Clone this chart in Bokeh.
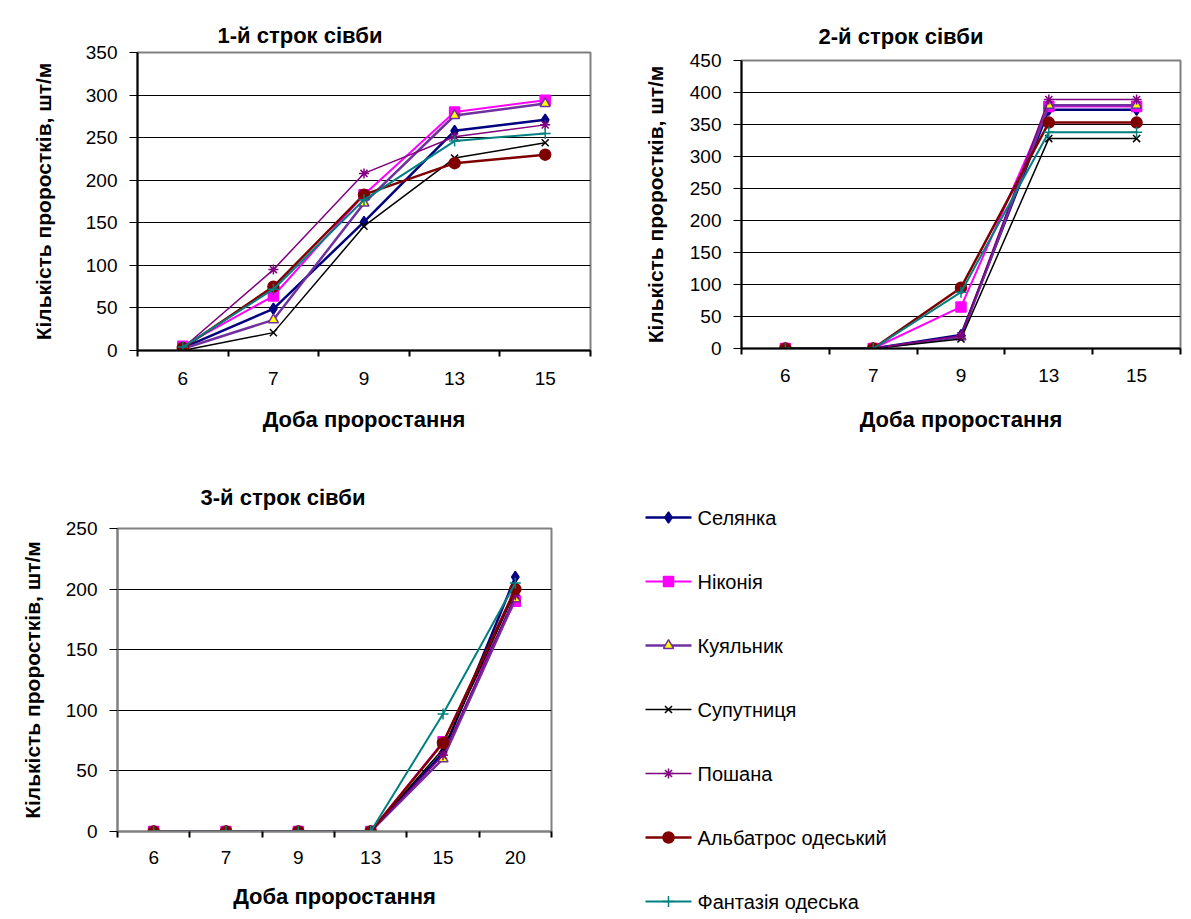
from bokeh.plotting import figure
from bokeh.models import Range1d, FixedTicker, ColumnDataSource
from bokeh.core.properties import value
from bokeh.layouts import column, row
from bokeh.embed import file_html
from bokeh.resources import INLINE

FONT = "Liberation Sans"

# ---------------- data ----------------
varieties = ["Селянка", "Ніконія", "Куяльник", "Супутниця", "Пошана",
             "Альбатрос одеський", "Фантазія одеська"]

# 1-й строк сівби
days_1 = ["6", "7", "9", "13", "15"]
selyanka_1 = [3, 49, 151, 258, 271]
nikoniya_1 = [5, 64, 183, 280, 294]
kuyalnyk_1 = [2, 36, 173, 276, 290]
suputnytsia_1 = [0, 21, 146, 226, 244]
poshana_1 = [3, 95, 208, 251, 265]
albatros_1 = [3, 75, 183, 220, 230]
fantaziya_1 = [4, 72, 177, 246, 255]

# 2-й строк сівби
days_2 = ["6", "7", "9", "13", "15"]
selyanka_2 = [0, 0, 21, 373, 373]
nikoniya_2 = [0, 0, 65, 378, 378]
kuyalnyk_2 = [0, 0, 18, 380, 380]
suputnytsia_2 = [0, 0, 15, 328, 328]
poshana_2 = [0, 0, 20, 389, 389]
albatros_2 = [0, 0, 95, 353, 353]
fantaziya_2 = [0, 0, 88, 338, 338]

# 3-й строк сівби
days_3 = ["6", "7", "9", "13", "15", "20"]
selyanka_3 = [0, 0, 0, 0, 65, 210]
nikoniya_3 = [0, 0, 0, 0, 74, 190]
kuyalnyk_3 = [0, 0, 0, 0, 60, 192]
suputnytsia_3 = [0, 0, 0, 0, 68, 198]
poshana_3 = [0, 0, 0, 0, 63, 195]
albatros_3 = [0, 0, 0, 0, 73, 200]
fantaziya_3 = [0, 0, 0, 0, 97, 205]

y_label = "Кількість проростків, шт/м"
x_label = "Доба проростання"

# ---------------- styles ----------------
styles = [
    dict(color="#000080", marker="diamond", fill="#000080", lw=2.5, size=11),
    dict(color="#FF00FF", marker="square", fill="#FF00FF", lw=2.0, size=10),
    dict(color="#7030A0", marker="triangle", fill="#FFFF00", lw=2.5, size=10),
    dict(color="#000000", marker="x", fill="#000000", lw=1.5, size=10),
    dict(color="#800080", marker="asterisk", fill="#800080", lw=1.5, size=10),
    dict(color="#800000", marker="circle", fill="#800000", lw=2.5, size=11),
    dict(color="#008080", marker="cross", fill="#008080", lw=2.0, size=11),
]


def make_chart(title, days, series, y_max, width, height, left, right, top, bottom,
               title_offset, title_standoff, ylab_standoff, x_lab_standoff,
               x_title_standoff, axis_color):
    n = len(days)
    xs = [i + 0.5 for i in range(n)]
    p = figure(width=width, height=height, x_range=Range1d(0, n), y_range=Range1d(0, y_max),
               output_backend="svg", toolbar_location=None,
               min_border_left=left, min_border_right=right,
               min_border_top=top, min_border_bottom=bottom,
               title=title)
    p.frame_align = False
    p.title.text_font = FONT
    p.title.text_font_size = "22px"
    p.title.text_font_style = "bold"
    p.title.align = "left"
    p.title.offset = title_offset
    p.title.standoff = title_standoff
    p.title.text_color = "black"

    p.outline_line_color = "#808080"
    p.outline_line_width = 2
    p.xgrid.grid_line_color = None
    p.ygrid.grid_line_color = "black"
    p.ygrid.grid_line_width = 1

    xa = p.xaxis[0]
    xa.ticker = FixedTicker(ticks=xs, minor_ticks=list(range(n + 1)))
    xa.major_label_overrides = {x: d for x, d in zip(xs, days)}
    xa.major_tick_line_color = None
    xa.major_tick_out = 6
    xa.major_tick_in = 0
    xa.minor_tick_line_color = "black"
    xa.minor_tick_out = 6
    xa.minor_tick_in = 0
    xa.minor_tick_line_width = 2
    xa.major_label_standoff = x_lab_standoff
    xa.major_label_text_font = FONT
    xa.major_label_text_font_size = "19px"
    xa.major_label_text_color = "black"
    xa.axis_line_color = axis_color
    xa.axis_line_width = 2
    xa.axis_label = x_label
    xa.axis_label_text_font = FONT
    xa.axis_label_text_font_size = "22px"
    xa.axis_label_text_font_style = "bold"
    xa.axis_label_text_color = "black"
    xa.axis_label_standoff = x_title_standoff

    ya = p.yaxis[0]
    ya.ticker = FixedTicker(ticks=list(range(0, y_max + 1, 50)), minor_ticks=[])
    ya.major_tick_out = 8
    ya.major_tick_in = 0
    ya.major_tick_line_color = "black"
    ya.major_label_standoff = 12
    ya.major_label_text_font = FONT
    ya.major_label_text_font_size = "19px"
    ya.major_label_text_color = "black"
    ya.axis_line_color = axis_color
    ya.axis_line_width = 2
    ya.axis_label = y_label
    ya.axis_label_text_font = FONT
    ya.axis_label_text_font_size = "21px"
    ya.axis_label_text_font_style = "bold"
    ya.axis_label_text_color = "black"
    ya.axis_label_standoff = ylab_standoff

    for vals, st in zip(series, styles):
        src = ColumnDataSource(dict(x=xs, y=vals))
        p.line("x", "y", source=src, line_color=st["color"], line_width=st["lw"])
        p.scatter("x", "y", source=src, marker=st["marker"], size=st["size"],
                  fill_color=st["fill"], line_color=st["color"], line_width=1.5)
    return p


p1 = make_chart("1-й строк сівби", days_1,
                [selyanka_1, nikoniya_1, kuyalnyk_1, suputnytsia_1, poshana_1, albatros_1, fantaziya_1],
                350, 610, 455, 137, 20, 52, 105,
                title_offset=80, title_standoff=10, ylab_standoff=28,
                x_lab_standoff=15, x_title_standoff=19, axis_color="black")

p2 = make_chart("2-й строк сівби", days_2,
                [selyanka_2, nikoniya_2, kuyalnyk_2, suputnytsia_2, poshana_2, albatros_2, fantaziya_2],
                450, 581, 455, 131, 11, 60, 107,
                title_offset=77, title_standoff=24, ylab_standoff=20,
                x_lab_standoff=14, x_title_standoff=22, axis_color="black")

p3 = make_chart("3-й строк сівби", days_3,
                [selyanka_3, nikoniya_3, kuyalnyk_3, suputnytsia_3, poshana_3, albatros_3, fantaziya_3],
                250, 600, 464, 117, 49, 73, 88,
                title_offset=83, title_standoff=38, ylab_standoff=19,
                x_lab_standoff=13, x_title_standoff=17, axis_color="#808080")

# ---------------- legend panel (pixel-like coordinates, y downward) ----------------
LW, LH = 591, 464
pl = figure(width=LW, height=LH, output_backend="svg", toolbar_location=None,
            x_axis_type=None, y_axis_type=None, min_border=0,
            x_range=Range1d(0, LW), y_range=Range1d(LH, 0))
pl.frame_align = False
pl.outline_line_color = None
pl.grid.grid_line_color = None
row0, pitch = 62, 64
x0, x1 = 45, 91
for i, (name, st) in enumerate(zip(varieties, styles)):
    yy = row0 + pitch * i
    pl.line([x0, x1], [yy, yy], line_color=st["color"], line_width=st["lw"])
    pl.scatter([(x0 + x1) / 2], [yy], marker=st["marker"], size=st["size"],
               fill_color=st["fill"], line_color=st["color"], line_width=1.5)
    pl.text([x1 + 6], [yy], text=[name], text_font=value(FONT), text_font_size="20px",
            text_baseline="middle", text_align="left", text_color="black")

layout = column(row(p1, p2), row(p3, pl))
open("out.html", "w").write(file_html(layout, INLINE))
